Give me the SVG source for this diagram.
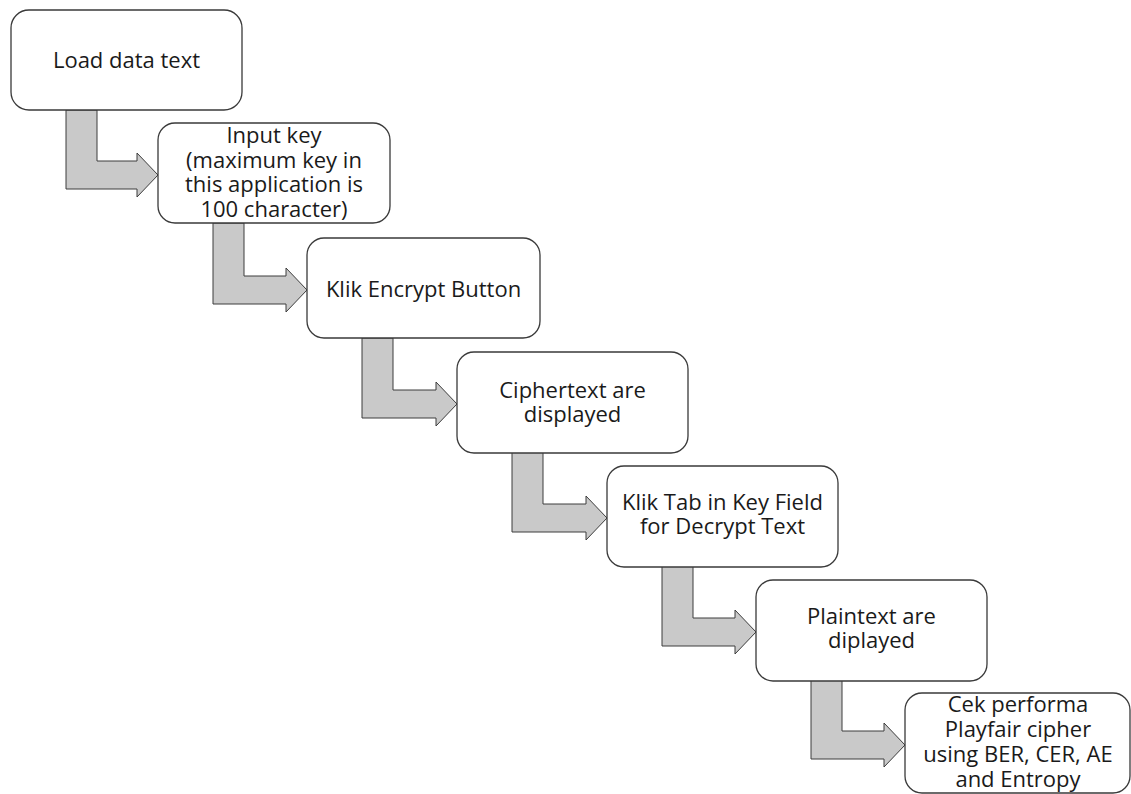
<svg xmlns="http://www.w3.org/2000/svg" width="1131" height="794" viewBox="0 0 1131 794">
<style>
.box{fill:#ffffff;stroke:#3a3a3a;stroke-width:1.3}
.arr{fill:#c9c9c9;stroke:#3c3c3c;stroke-width:1}
.t{font-family:"Open Sans","Lato","Liberation Sans",sans-serif;font-size:22px;fill:#1a1a1a;text-anchor:middle}
</style>
<rect width="1131" height="794" fill="#ffffff"/>
<g id="connectors">
<polygon class="arr" points="66,110 97,110 97,161 137,161 137,153 158,175 137,197 137,189 66,189"/>
<polygon class="arr" points="213,223 244,223 244,276 286,276 286,268 307,290 286,312 286,304 213,304"/>
<polygon class="arr" points="362,338 393,338 393,390 436,390 436,382 457,404 436,426 436,418 362,418"/>
<polygon class="arr" points="512,452 543,452 543,504 586,504 586,496 607,518 586,540 586,532 512,532"/>
<polygon class="arr" points="662,566 693,566 693,618 735,618 735,610 756,632 735,654 735,646 662,646"/>
<polygon class="arr" points="811,680 842,680 842,731 884,731 884,723 905,745 884,767 884,759 811,759"/>
</g>
<g id="n1"><rect class="box" x="11" y="10" width="231" height="100" rx="18"/>
<text class="t" x="126.5" y="68">Load data text</text></g>
<g id="n2"><rect class="box" x="158" y="123" width="232" height="100" rx="17"/>
<text class="t" x="274" y="143">Input key</text>
<text class="t" x="274" y="167.5">(maximum key in</text>
<text class="t" x="274" y="192">this application is</text>
<text class="t" x="274" y="216.5">100 character)</text></g>
<g id="n3"><rect class="box" x="307" y="238" width="233" height="100" rx="17"/>
<text class="t" x="423.5" y="297">Klik Encrypt Button</text></g>
<g id="n4"><rect class="box" x="457" y="352" width="231" height="101" rx="17"/>
<text class="t" x="572.5" y="398">Ciphertext are</text>
<text class="t" x="572.5" y="422">displayed</text></g>
<g id="n5"><rect class="box" x="607" y="466" width="231" height="101" rx="17"/>
<text class="t" x="722.5" y="510">Klik Tab in Key Field</text>
<text class="t" x="722.5" y="534">for Decrypt Text</text></g>
<g id="n6"><rect class="box" x="756" y="580" width="231" height="101" rx="17"/>
<text class="t" x="871.5" y="624">Plaintext are</text>
<text class="t" x="871.5" y="648">diplayed</text></g>
<g id="n7"><rect class="box" x="905" y="693" width="225" height="100" rx="17"/>
<text class="t" x="1018" y="711.5">Cek performa</text>
<text class="t" x="1018" y="736.5">Playfair cipher</text>
<text class="t" x="1018" y="762">using BER, CER, AE</text>
<text class="t" x="1018" y="787">and Entropy</text></g>
</svg>
